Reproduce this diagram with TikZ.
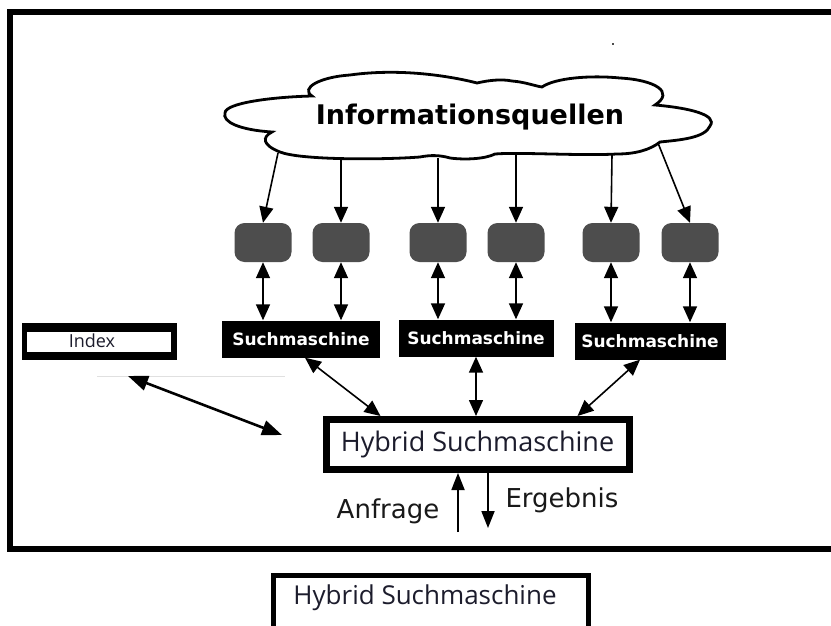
\documentclass[tikz,border=0pt]{standalone}
\usepackage{fontspec}
\usetikzlibrary{arrows.meta}
\newfontfamily\dvs{DejaVu Sans}
\newfontfamily\osans{Open Sans}
\definecolor{srcgray}{HTML}{4D4D4D}
\definecolor{hytext}{HTML}{1C1C2C}
\begin{document}
\begin{tikzpicture}[x=1pt,y=-1pt,
  arr/.style={line width=1.6pt,-{Triangle[length=16pt,width=14pt]}},
  darr/.style={line width=1.6pt,{Triangle[length=16pt,width=14pt]}-{Triangle[length=16pt,width=14pt]}},
  bigdarr/.style={line width=2.6pt,{Triangle[length=20pt,width=15pt]}-{Triangle[length=20pt,width=15pt]}},
  srcbox/.style={fill=srcgray,rounded corners=10pt,minimum width=57pt,minimum height=39pt,inner sep=0pt},
  smbox/.style={fill=black,text=white,font=\dvs\bfseries\fontsize{17}{20}\selectfont,inner sep=0pt,minimum height=37pt},
  lbl/.style={font=\dvs\fontsize{26}{30}\selectfont,text=black!90,inner sep=0pt},
  hyb/.style={draw=black,fill=white,line width=7pt,minimum width=303pt,minimum height=50pt,inner sep=0pt,text=hytext,font=\osans\fontsize{27}{32}\selectfont}
]
\useasboundingbox (0,0) rectangle (831,626);
\clip (0,0) rectangle (831,626);
\fill[white] (0,0) rectangle (831,626);

% outer frame
\draw[line width=6pt] (10,12) rectangle (845,548.5);
% speck
\fill[black!70] (612,43) rectangle (614,45);

% cloud
\draw[line width=2.8pt,fill=white]
  (225,113) .. controls (225,103) and (272,97) .. (312,96)
  .. controls (300,88) and (320,77) .. (350,75)
  .. controls (400,68) and (450,76) .. (477,83)
  .. controls (490,80) and (502,79) .. (512,81)
  .. controls (525,82) and (535,86) .. (542,87)
  .. controls (555,78) and (590,75) .. (620,78)
  .. controls (655,80) and (675,92) .. (655,105)
  .. controls (690,108) and (718,115) .. (710,126)
  .. controls (705,138) and (680,140) .. (660,142)
  .. controls (650,150) and (635,154) .. (617,154)
  .. controls (580,156) and (520,152) .. (495,154)
  .. controls (485,159) and (465,160) .. (450,158)
  .. controls (440,155) and (430,155) .. (420,157)
  .. controls (380,160) and (300,160) .. (280,152)
  .. controls (262,145) and (262,137) .. (272,132)
  .. controls (240,130) and (222,122) .. (225,113) -- cycle;
\node[font=\dvs\bfseries\fontsize{27}{32}\selectfont,inner sep=0pt] (info) at (470,117) {Informationsquellen};

\coordinate (c1) at (278,153);
\coordinate (c2) at (341,159);
\coordinate (c3) at (438,158);
\coordinate (c4) at (516,155);
\coordinate (c5) at (612,155);
\coordinate (c6) at (658,143);

% source boxes
\node[srcbox] (r1) at (263,242.5) {};
\node[srcbox] (r2) at (341,242.5) {};
\node[srcbox] (r3) at (438,242.5) {};
\node[srcbox] (r4) at (516,242.5) {};
\node[srcbox] (r5) at (611,242.5) {};
\node[srcbox] (r6) at (690,242.5) {};

\draw[arr] (c1) -- (r1.north);
\draw[arr] (c2) -- (r2.north);
\draw[arr] (c3) -- (r3.north);
\draw[arr] (c4) -- (r4.north);
\draw[arr] (c5) -- (r5.north);
\draw[arr] (c6) -- (r6.north);

% search engines
\node[smbox,minimum width=158pt] (s1) at (301,339) {Suchmaschine};
\node[smbox,minimum width=155pt] (s2) at (476,338) {Suchmaschine};
\node[smbox,minimum width=151pt] (s3) at (650,341) {Suchmaschine};

\draw[darr] (r1.south) -- (r1.south |- s1.north);
\draw[darr] (r2.south) -- (r2.south |- s1.north);
\draw[darr] (r3.south) -- (r3.south |- s2.north);
\draw[darr] (r4.south) -- (r4.south |- s2.north);
\draw[darr] (r5.south) -- (r5.south |- s3.north);
\draw[darr] (r6.south) -- (r6.south |- s3.north);

% hybrid
\node[hyb] (hy) at (477.5,444.5) {Hybrid Suchmaschine};

\draw[darr] ([xshift=4pt]s1.south) -- ([xshift=-97pt]hy.north);
\draw[darr] (s2.south) -- (s2.south |- hy.north);
\draw[darr] ([xshift=-10pt]s3.south) -- ([xshift=100pt]hy.north);

% index
\fill (22,323) rectangle (177,360);
\node[fill=white,minimum width=144pt,minimum height=20pt,inner sep=0pt] (ix) at (99,342) {};
\node[font=\osans\fontsize{18}{20}\selectfont,text=hytext,inner sep=0pt] (ixt) at (92,341) {Index};

\draw[black!12,line width=0.8pt] (97,376) -- (285,376);
\coordinate (ia) at (128,376);
\coordinate (ib) at (282,435);
\draw[bigdarr] (ia) -- (ib);

% query / result
\coordinate (qa) at (458,532);
\coordinate (rb) at (488,528);
\draw[line width=1.8pt,-{Triangle[length=17pt,width=13pt]}] (qa) -- (qa |- hy.south);
\draw[line width=1.8pt,-{Triangle[length=17pt,width=13pt]}] (rb |- hy.south) -- (rb);
\node[lbl] (anf) at (388,511) {Anfrage};
\node[lbl] (erg) at (562,500) {Ergebnis};

% bottom box
\node[draw=black,line width=5pt,minimum width=315pt,minimum height=80pt,anchor=north west,inner sep=0pt] (hb) at (270.5,572.5) {};
\node[font=\osans\fontsize{26}{30}\selectfont,text=hytext,inner sep=0pt] (hbt) at (425,598) {Hybrid Suchmaschine};
\end{tikzpicture}
\end{document}
